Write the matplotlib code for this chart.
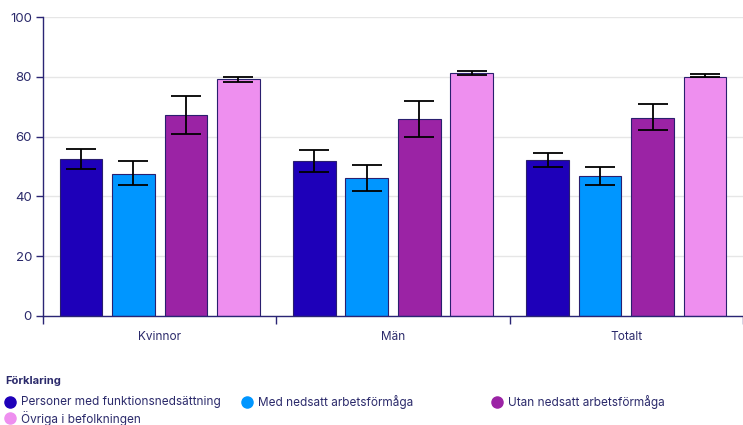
import matplotlib
matplotlib.use('Agg')
from matplotlib import pyplot as plt
from matplotlib.lines import Line2D
import numpy as np

plt.rcParams['font.family'] = ['Inter', 'DejaVu Sans']

categories = ['Kvinnor', 'Män', 'Totalt']
series = ['Personer med funktionsnedsättning', 'Med nedsatt arbetsförmåga',
          'Utan nedsatt arbetsförmåga', 'Övriga i befolkningen']
colors = ['#1e00b9', '#0096ff', '#9b23a5', '#ee8fef']

values = [
    [52.5, 51.8, 52.1],
    [47.5, 46.0, 46.8],
    [67.2, 65.8, 66.3],
    [79.3, 81.2, 80.0],
]
err_low = [
    [49.2, 48.0, 49.7],
    [43.8, 41.7, 43.9],
    [60.9, 59.8, 62.1],
    [78.3, 80.7, 79.8],
]
err_high = [
    [55.7, 55.5, 54.6],
    [51.7, 50.6, 49.7],
    [73.7, 72.0, 71.0],
    [80.1, 82.0, 80.9],
]

text_col = '#2b2a6b'
axis_col = '#2a2575'

fig = plt.figure(figsize=(7.43, 4.25), dpi=100)
W, H = 743, 425
ax = fig.add_axes([43 / W, (H - 316) / H, 700 / W, 299 / H])

x = np.arange(len(categories))
width = 0.183
step = 0.225
for i in range(len(series)):
    pos = x + (i - 1.5) * step
    v = np.array(values[i])
    lo = v - np.array(err_low[i])
    hi = np.array(err_high[i]) - v
    ax.bar(pos, v, width, color=colors[i], edgecolor='#2a1f6e', linewidth=0.8,
           zorder=2)
    ax.errorbar(pos, v, yerr=[lo, hi], fmt='none', ecolor='black',
                elinewidth=1.3, capsize=11, capthick=1.3, zorder=3)

ax.set_ylim(0, 100)
ax.set_xlim(-0.5, -0.5 + 700 / 235)
ax.set_yticks(range(0, 101, 20))
ax.yaxis.grid(True, color='#e6e6e6', linewidth=1, zorder=0)
ax.set_axisbelow(True)

ax.set_xticks([-0.5, 0.5, 1.5, 2.5])
ax.set_xticklabels([])
ax.set_xticks(x, minor=True)
ax.set_xticklabels(categories, minor=True)
ax.tick_params(axis='x', which='minor', length=0, pad=11, labelsize=8.5,
               labelcolor=text_col)
ax.tick_params(axis='x', which='major', length=6, color=axis_col, width=1)
ax.tick_params(axis='y', length=5, color=axis_col, width=1, labelsize=9.5,
               labelcolor=text_col, pad=3)

for s in ['top', 'right']:
    ax.spines[s].set_visible(False)
for s in ['left', 'bottom']:
    ax.spines[s].set_color(axis_col)
    ax.spines[s].set_linewidth(1)

# legend
fig.text(5 / W, 1 - 381 / H, 'Förklaring', fontsize=8, fontweight='bold',
         color=text_col, va='center', ha='left')
legend_pos = [(10, 402), (247, 402), (497, 402), (10, 418)]
for (px, py), name, c in zip(legend_pos, series, colors):
    fig.add_artist(Line2D([px / W], [1 - py / H], marker='o', markersize=8,
                          color=c, linestyle='none', transform=fig.transFigure))
    fig.text((px + 11) / W, 1 - py / H, name, fontsize=8.5, color=text_col,
             va='center', ha='left')

fig.savefig('out.png', dpi=100)
